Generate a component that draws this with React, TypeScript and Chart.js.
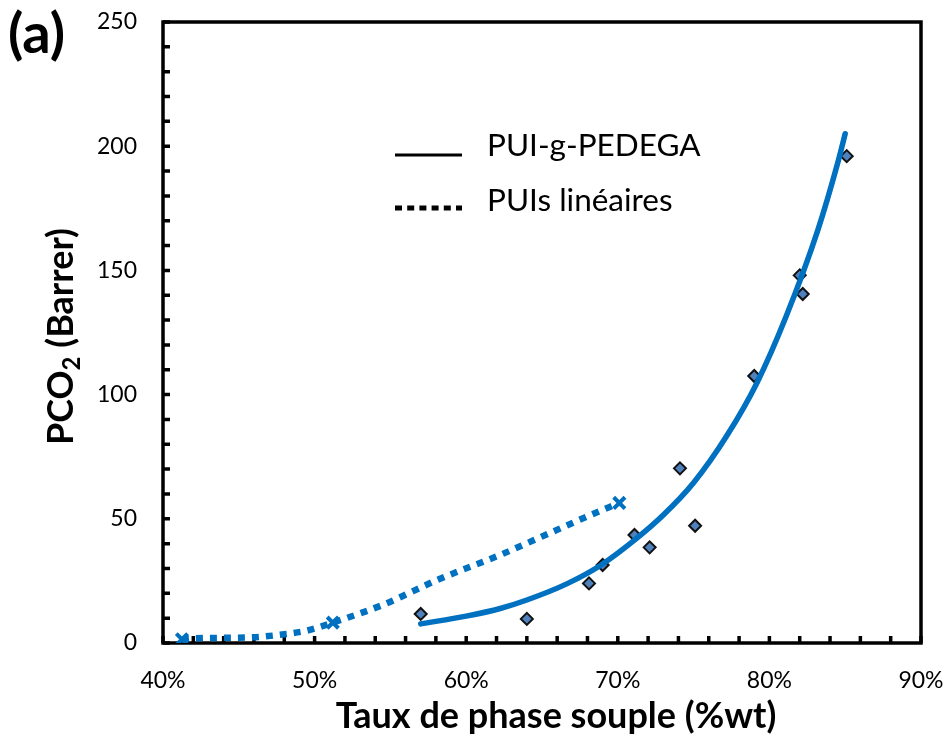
import React, { useEffect, useRef } from 'react';
import { Chart, registerables } from 'chart.js';

Chart.register(...registerables);

const FONT = 'Lato, "Open Sans", sans-serif';
const BLUE = '#0070C0';

// PUI-g-PEDEGA measured points (soft phase %wt, PCO2 Barrer)
const pedegaX = [57, 64, 68.1, 69, 71.1, 72.1, 74.1, 75.1, 79, 82, 82.2, 85.1];
const pedegaY = [11.7, 9.7, 24, 31.4, 43.5, 38.5, 70.3, 47.2, 107.5, 148, 140.5, 196];

// PUI-g-PEDEGA trend curve
const pedegaFitX = [57, 60, 62.3, 64, 66.7, 68.9, 71.3, 73.0, 75.0, 77.2, 79.2, 81.1, 83.2, 84.5, 85.0];
const pedegaFitY = [7.7, 10.8, 14.0, 17.3, 24.0, 31.4, 42.4, 51.5, 64.5, 83.5, 105, 131.4, 166.3, 193.1, 205];

// PUIs linéaires measured points
const linX = [41.25, 51.2, 70.1];
const linY = [1.5, 8.2, 56.4];

// PUIs linéaires dotted curve
const linFitX = [41.25, 42.2, 45.9, 47.7, 49.5, 51.2, 54.6, 58.1, 62.3, 65.6, 68.2, 70.1];
const linFitY = [1.5, 1.9, 2.3, 3.3, 5.0, 8.2, 15.6, 25.4, 35.6, 44.5, 51.5, 56.4];

// labelled tick values
const xLabelled = [40, 50, 60, 70, 80, 90];
const yLabelled = [0, 50, 100, 150, 200, 250];

const legendLabels = ['PUI-g-PEDEGA', 'PUIs linéaires'];
const xTitle = 'Taux de phase souple (%wt)';
const yTitleMain = 'PCO';
const yTitleSub = '2';
const yTitleRest = ' (Barrer)';
const panelLabel = '(a)';

const zip = (xs: number[], ys: number[]) => xs.map((x, i) => ({ x, y: ys[i] }));

const decorPlugin = {
  id: 'decor',
  beforeDatasetsDraw(chart: any) {
    const { ctx, chartArea: a, scales } = chart;
    ctx.save();
    ctx.strokeStyle = '#000';
    ctx.lineWidth = 3.5;
    ctx.strokeRect(a.left, a.top, a.right - a.left, a.bottom - a.top);
    ctx.lineWidth = 3.5;
    ctx.lineCap = 'butt';
    ctx.beginPath();
    for (const t of scales.x.ticks) {
      const px = scales.x.getPixelForValue(t.value);
      ctx.moveTo(px, a.bottom);
      ctx.lineTo(px, a.bottom - 7);
    }
    for (const t of scales.y.ticks) {
      const py = scales.y.getPixelForValue(t.value);
      ctx.moveTo(a.left, py);
      ctx.lineTo(a.left + 7, py);
    }
    ctx.stroke();
    ctx.restore();
  },
  afterDraw(chart: any) {
    const { ctx, chartArea: a } = chart;
    ctx.save();
    ctx.fillStyle = '#000';
    ctx.textBaseline = 'alphabetic';

    // panel label
    ctx.font = `bold 56px ${FONT}`;
    ctx.textAlign = 'left';
    ctx.fillText(panelLabel, 8, 53);

    // x title (slightly right of plot centre, as in the reference)
    ctx.font = `bold 36px ${FONT}`;
    ctx.textAlign = 'center';
    ctx.textBaseline = 'middle';
    ctx.fillText(xTitle, (a.left + a.right) / 2 + 14, 716);
    ctx.textAlign = 'left';
    ctx.textBaseline = 'alphabetic';

    // y title with subscript
    const big = `bold 36px ${FONT}`;
    const small = `bold 24px ${FONT}`;
    ctx.font = big;
    const w1 = ctx.measureText(yTitleMain).width;
    const w3 = ctx.measureText(yTitleRest).width;
    ctx.font = small;
    const w2 = ctx.measureText(yTitleSub).width;
    const total = w1 + w2 + w3;
    ctx.translate(73, (a.top + a.bottom) / 2 + 4);
    ctx.rotate(-Math.PI / 2);
    let x0 = -total / 2;
    ctx.font = big;
    ctx.fillText(yTitleMain, x0, 0);
    x0 += w1;
    ctx.font = small;
    ctx.fillText(yTitleSub, x0, 7);
    x0 += w2;
    ctx.font = big;
    ctx.fillText(yTitleRest, x0, 0);
    ctx.setTransform(1, 0, 0, 1, 0, 0);

    // legend
    ctx.strokeStyle = '#000';
    ctx.lineWidth = 3;
    ctx.setLineDash([]);
    ctx.beginPath();
    ctx.moveTo(395, 155);
    ctx.lineTo(462, 155);
    ctx.stroke();
    ctx.lineWidth = 5;
    ctx.setLineDash([7, 5.2]);
    ctx.beginPath();
    ctx.moveTo(395, 208);
    ctx.lineTo(462, 208);
    ctx.stroke();
    ctx.setLineDash([]);
    ctx.font = `31.5px ${FONT}`;
    ctx.fillText(legendLabels[0], 487, 156);
    ctx.fillText(legendLabels[1], 487, 211);
    ctx.restore();
  },
};

const zeroPad = (s: any) => {
  s.paddingLeft = 0;
  s.paddingRight = 0;
  s.paddingTop = 0;
  s.paddingBottom = 0;
};

export default function App() {
  const ref = useRef<HTMLCanvasElement>(null);
  useEffect(() => {
    const chart = new Chart(ref.current as HTMLCanvasElement, {
      type: 'scatter',
      data: {
        datasets: [
          {
            label: legendLabels[0] + ' fit',
            data: zip(pedegaFitX, pedegaFitY),
            showLine: true,
            borderColor: BLUE,
            borderWidth: 5.5,
            borderCapStyle: 'round',
            pointRadius: 0,
            cubicInterpolationMode: 'monotone',
            order: 1,
          },
          {
            label: legendLabels[1] + ' fit',
            data: zip(linFitX, linFitY),
            showLine: true,
            borderColor: BLUE,
            borderWidth: 6.5,
            borderDash: [7, 7],
            borderCapStyle: 'butt',
            pointRadius: 0,
            cubicInterpolationMode: 'monotone',
            order: 2,
          },
          {
            label: legendLabels[1],
            data: zip(linX, linY),
            showLine: false,
            pointStyle: 'crossRot',
            pointRadius: 8,
            borderColor: BLUE,
            backgroundColor: BLUE,
            pointBorderWidth: 4,
            order: 0,
          },
          {
            label: legendLabels[0],
            data: zip(pedegaX, pedegaY),
            showLine: false,
            pointStyle: 'rectRot',
            pointRadius: 6,
            pointBackgroundColor: '#4F81BD',
            pointBorderColor: '#111',
            pointBorderWidth: 2,
            order: 3,
          },
        ],
      } as any,
      options: {
        responsive: false,
        animation: false,
        devicePixelRatio: 1,
        layout: { padding: { left: 0, top: 22, right: 28, bottom: 0 } },
        plugins: { legend: { display: false }, tooltip: { enabled: false } },
        scales: {
          x: {
            type: 'linear',
            min: 40,
            max: 90,
            afterFit: (s: any) => { s.height = 97; zeroPad(s); },
            grid: { display: false, drawTicks: false },
            border: { display: false },
            ticks: {
              stepSize: 2,
              autoSkip: false,
              maxRotation: 0,
              padding: 24,
              color: '#000',
              font: { family: FONT, size: 23 },
              callback: (v: any) => (xLabelled.includes(Math.round(v)) ? Math.round(v) + '%' : ''),
            },
          },
          y: {
            type: 'linear',
            min: 0,
            max: 250,
            afterFit: (s: any) => { s.width = 163; zeroPad(s); },
            grid: { display: false, drawTicks: false },
            border: { display: false },
            ticks: {
              stepSize: 10,
              autoSkip: false,
              padding: 26,
              color: '#000',
              font: { family: FONT, size: 23 },
              callback: (v: any) => (yLabelled.includes(Math.round(v)) ? String(Math.round(v)) : ''),
            },
          },
        },
      } as any,
      plugins: [decorPlugin],
    });
    return () => chart.destroy();
  }, []);
  return (
    <div style={{ position: 'fixed', left: 0, top: 0, width: 949, height: 740, background: '#fff' }}>
      <canvas ref={ref} width={949} height={740} style={{ display: 'block' }} />
    </div>
  );
}
